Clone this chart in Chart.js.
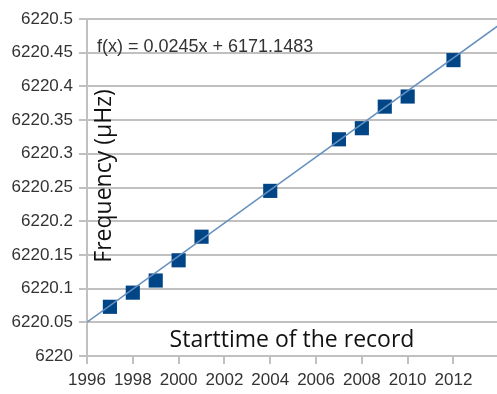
<!DOCTYPE html>
<html><head><meta charset="utf-8">
<script src="https://cdn.jsdelivr.net/npm/chart.js@4/dist/chart.umd.min.js"></script>
<style>html,body{margin:0;padding:0;background:#fff}canvas{display:block}</style>
</head><body>
<canvas id="c" width="497" height="394"></canvas>
<script>
const years = [1997, 1998, 1999, 2000, 2001, 2004, 2007, 2008, 2009, 2010, 2012];
const frequencies = [6220.073, 6220.094, 6220.112, 6220.142, 6220.177, 6220.245, 6220.3215, 6220.338, 6220.37, 6220.385, 6220.439];
const trendYears = [1996, 2014];
const trendValues = [6220.0503, 6220.4913];
const equationLabel = 'f(x) = 0.0245x + 6171.1483';
const xTitle = 'Starttime of the record';
const yTitle = 'Frequency (\u00b5Hz)';

const overlay = {
  id: 'overlay',
  afterDraw(chart) {
    const ctx = chart.ctx;
    ctx.save();
    ctx.fillStyle = '#333';
    ctx.font = '18px "Liberation Sans", Arial, sans-serif';
    ctx.textBaseline = 'alphabetic';
    ctx.textAlign = 'left';
    ctx.fillText(equationLabel, 97, 52);
    ctx.fillStyle = '#111';
    ctx.font = '23px "Open Sans", sans-serif';
    ctx.textAlign = 'center';
    ctx.fillText(xTitle, 292, 347);
    ctx.translate(111, 176);
    ctx.rotate(-Math.PI / 2);
    ctx.fillText(yTitle, 0, 0);
    ctx.restore();
  }
};

new Chart(document.getElementById('c'), {
  type: 'scatter',
  data: {
    datasets: [
      {
        type: 'line',
        data: trendYears.map((x, i) => ({x, y: trendValues[i]})),
        borderColor: '#6590bf',
        borderWidth: 1.5,
        pointRadius: 0,
        fill: false
      },
      {
        data: years.map((x, i) => ({x, y: frequencies[i]})),
        backgroundColor: '#004586',
        borderColor: '#004586',
        pointStyle: 'rect',
        pointRadius: 10,
        borderWidth: 0
      }
    ]
  },
  options: {
    responsive: false,
    animation: false,
    devicePixelRatio: 1,
    layout: {autoPadding: false, padding: {top: 19, right: 0, left: 0, bottom: 0}},
    plugins: {legend: {display: false}, tooltip: {enabled: false}},
    scales: {
      x: {
        type: 'linear',
        min: 1996, max: 2013.9,
        afterFit(s) { s.height = 38; s.paddingRight = 0; s.paddingLeft = 0; },
        ticks: {stepSize: 2, includeBounds: false, color: '#333', padding: 6,
          font: {family: '"Liberation Sans", Arial, sans-serif', size: 17},
          callback: v => String(v), maxRotation: 0, autoSkip: false},
        grid: {drawOnChartArea: false, drawTicks: true, tickLength: 8, color: '#c0c0c0', lineWidth: 2},
        border: {display: true, color: '#c0c0c0', width: 2}
      },
      y: {
        min: 6220, max: 6220.5,
        afterFit(s) { s.width = 87; },
        ticks: {stepSize: 0.05, color: '#333', padding: 6,
          font: {family: '"Liberation Sans", Arial, sans-serif', size: 17},
          callback: v => String(parseFloat(v.toFixed(2)))},
        grid: {color: '#c0c0c0', lineWidth: 2, tickLength: 8},
        border: {display: true, color: '#c0c0c0', width: 2}
      }
    }
  },
  plugins: [overlay]
});
</script>
</body></html>
